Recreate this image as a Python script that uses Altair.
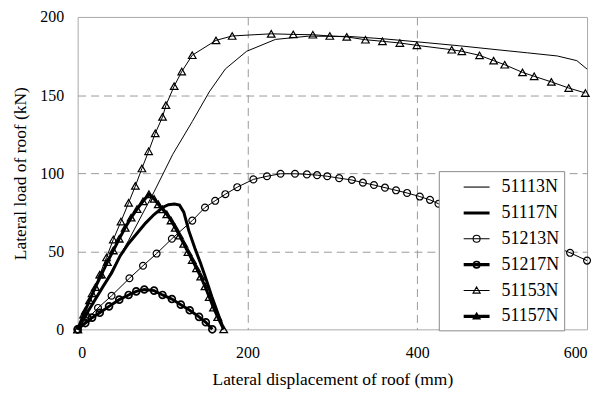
import altair as alt
import pandas as pd

series_names = ["51113N", "51117N", "51213N", "51217N", "51153N", "51157N"]

x_51113N = [0, 30, 60, 90, 112, 135, 155, 174, 199, 233, 272, 320, 360, 401, 450, 494, 530, 565, 588, 600]
y_51113N = [0, 28, 57, 88, 112, 133, 152, 166.7, 178, 185.6, 187.7, 187.5, 186, 184, 181.5, 179, 177, 175, 172, 166.6]

x_51117N = [0, 10, 20, 30, 40, 50, 60, 70, 80, 90, 100, 107, 114, 120, 125, 131, 138, 145, 152, 158, 165, 172]
y_51117N = [0, 9.5, 18.5, 27.5, 36, 47, 55, 61.5, 68, 73.5, 78, 79.8, 80.2, 79.5, 75, 63, 52, 42, 31, 21, 10.5, 0]

x_51213N = [0, 12, 24, 40, 61, 77, 93, 111, 135, 150, 162, 174, 188, 207, 223, 239, 256, 270, 282, 294,
            308, 323, 336, 349, 362, 375, 388, 403, 415, 425, 440, 460, 480, 500, 520, 540, 560, 580, 600]
y_51213N = [0, 7, 13.7, 21.5, 32.7, 40.7, 48.5, 58, 69.6, 78, 82.3, 86.5, 91, 96, 98, 99.6, 99.6, 99.2, 98.7, 98,
            96.8, 95.6, 93.9, 92.4, 90.7, 89, 87.3, 85, 82.9, 80.4, 78, 74, 70, 66, 62, 58, 53.5, 49, 44]

x_51217N = [0, 9, 17, 26, 37, 49, 60, 69, 78.5, 90, 100, 111, 121.5, 132, 143, 151, 158.6]
y_51217N = [0, 4, 7.5, 10.6, 14.7, 19, 22, 24.3, 25.5, 24.8, 22, 19.4, 15.8, 12.2, 8, 4.5, 0]

x_51153N = [0, 9, 17, 26, 34, 42, 51, 60, 68, 75.7, 83.6, 91.4, 100, 104, 113.7, 122.6, 135, 163, 182, 228,
            254, 277, 297, 317, 339, 359, 379.5, 399.6, 440.6, 452.5, 473.4, 490, 503, 524, 537.7, 558, 578.4, 598]
y_51153N = [0, 12, 23, 35, 46, 57.5, 69, 81, 91.8, 103, 114, 125.5, 136, 143.5, 155.7, 165, 175.5, 185, 187.8, 189.2,
            188.8, 188.6, 187.8, 187.2, 185.4, 184.4, 183.3, 181.8, 179, 178, 175.4, 172, 169.4, 164.5, 162, 158.4, 154.5, 151.3]

x_51157N = [0, 7, 14, 21, 28, 35, 42, 49, 56, 63, 70, 77, 84, 90, 95, 100, 105, 110, 115, 120, 125, 130,
            135, 140, 145, 150, 155, 160, 165, 172]
y_51157N = [0, 9.5, 18.5, 27, 35, 43, 50.5, 58, 65, 71.5, 77, 82, 86.5, 83.5, 80, 76.8, 73.6, 69.7, 65, 60, 54.7, 49.5,
            44.4, 39.1, 33.7, 27.5, 20.7, 13.9, 7.8, 0]

series_x = [x_51113N, x_51117N, x_51213N, x_51217N, x_51153N, x_51157N]
series_y = [y_51113N, y_51117N, y_51213N, y_51217N, y_51153N, y_51157N]

# styles (not data)
line_w = {"51113N": 1.0, "51117N": 3.0, "51213N": 1.0, "51217N": 3.0, "51153N": 1.0, "51157N": 3.0}
marker = {"51113N": None, "51117N": None, "51213N": "circle", "51217N": "circle",
          "51153N": "triangle-up", "51157N": "triangle-up"}
marker_w = {"51213N": 1.2, "51217N": 1.7, "51153N": 1.2, "51157N": 1.3}
marker_size = {"circle": 48, "triangle-up": 58}

thin = "M-1.3,0H1.3"
thick = "M-1.3,-0.1H1.3M-1.3,0H1.3M-1.3,0.1H1.3"
circ = "M0.35,0A0.35,0.35,0,1,1,-0.35,0A0.35,0.35,0,1,1,0.35,0"
circ2 = "M0.29,0A0.29,0.29,0,1,1,-0.29,0A0.29,0.29,0,1,1,0.29,0"
tri = "M0,-0.36L0.36,0.26L-0.36,0.26Z"
tri2 = "M0,-0.29L0.3,0.21L-0.3,0.21Z"
legend_paths = [thin, thick, thin + circ, thick + circ + circ2, thin + tri, thick + tri + tri2]

rows = []
for name, xs, ys in zip(series_names, series_x, series_y):
    for i, (xv, yv) in enumerate(zip(xs, ys)):
        rows.append({"series": name, "x": xv, "y": yv, "i": i,
                     "w": line_w[name], "shape": marker[name], "mw": marker_w.get(name, 1.0),
                     "ms": marker_size.get(marker[name], 0)})
df = pd.DataFrame(rows)
df_mark = df[df["shape"].notna()].copy()
df_leg = pd.DataFrame({"series": series_names})

FONT = "Liberation Serif"

x_enc = alt.X("x:Q", scale=alt.Scale(domain=[0, 600], nice=False),
              axis=alt.Axis(values=[0, 200, 400, 600], title="Lateral displacement of roof (mm)",
                            grid=True, gridDash=[8, 5], gridColor="#9a9a9a",
                            gridOpacity={"condition": {"test": "datum.value == 0 || datum.value == 600", "value": 0}, "value": 1},
                            domain=False, ticks=False, labelPadding=15, titlePadding=10))
y_enc = alt.Y("y:Q", scale=alt.Scale(domain=[0, 200], nice=False),
              axis=alt.Axis(values=[0, 50, 100, 150, 200], title="Lateral load of roof (kN)",
                            grid=True, gridDash=[8, 5], gridColor="#9a9a9a",
                            gridOpacity={"condition": {"test": "datum.value == 0 || datum.value == 200", "value": 0}, "value": 1},
                            domain=False, ticks=False, labelPadding=14, titlePadding=10))

lines = alt.Chart(df).mark_line(color="black").encode(
    x=x_enc, y=y_enc,
    detail="series:N", order="i:Q",
    strokeWidth=alt.StrokeWidth("w:Q", scale=None, legend=None),
)

points = alt.Chart(df_mark).mark_point(filled=False, color="black", opacity=1).encode(
    x="x:Q", y="y:Q",
    shape=alt.Shape("shape:N", scale=None, legend=None),
    size=alt.Size("ms:Q", scale=None, legend=None),
    strokeWidth=alt.StrokeWidth("mw:Q", scale=None, legend=None),
)

leg = alt.Chart(df_leg).mark_point(filled=False, color="black").encode(
    x=alt.value(0), y=alt.value(0), opacity=alt.value(0),
    shape=alt.Shape("series:N", sort=series_names,
                    scale=alt.Scale(domain=series_names, range=legend_paths),
                    legend=alt.Legend(title=None, orient="none", legendX=363, legendY=155,
                                      fillColor="white", strokeColor="#8a8a8a", padding=5,
                                      symbolSize=400, symbolStrokeWidth=1.1, symbolOpacity=1,
                                      symbolStrokeColor="black", symbolOffset=22,
                                      labelOffset=14, rowPadding=6,
                                      labelFont=FONT, labelFontSize=18, labelColor="black",
                                      labelExpr="datum.label + '\u00a0\u00a0\u00a0\u00a0\u00a0'")),
)

chart = alt.layer(lines, points, leg).resolve_scale(
    shape="independent", strokeWidth="independent", size="independent"
).resolve_legend(shape="independent").properties(
    width=512, height=314,
    background="white",
    autosize=alt.AutoSizeParams(type="none"),
    padding={"left": 70, "top": 8, "right": 10, "bottom": 60},
).configure_view(stroke="#a8a8a8", strokeWidth=1).configure_axis(
    labelFont=FONT, titleFont=FONT, labelFontSize=16, titleFontSize=17.5,
    labelColor="black", titleColor="black", titleFontWeight="normal",
)

chart.save("out.html", embed_options={"renderer": "svg", "actions": False})
